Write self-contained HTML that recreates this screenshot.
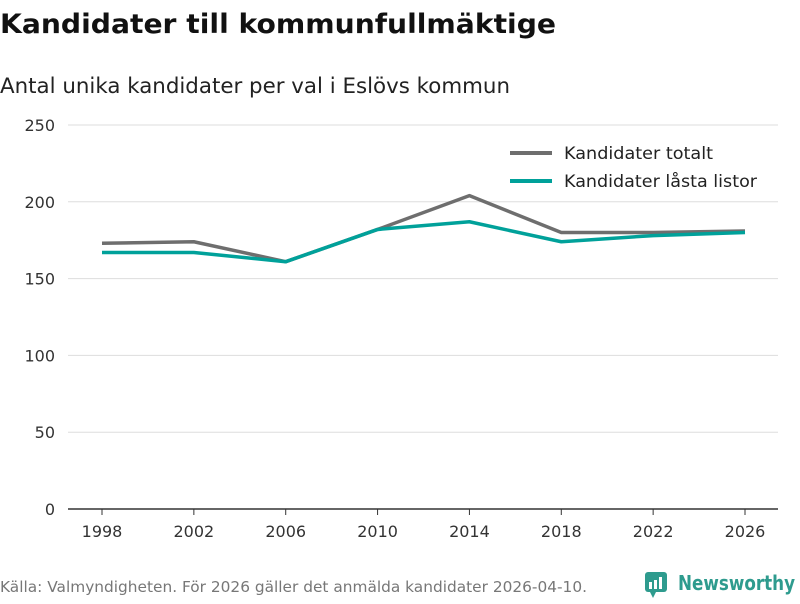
<!DOCTYPE html>
<html><head><meta charset="utf-8"><style>
body{margin:0;background:#fff;font-family:"DejaVu Sans","Liberation Sans",sans-serif;}
svg text{font-family:"DejaVu Sans","Liberation Sans",sans-serif;}
</style></head><body>
<svg width="800" height="600">
<text x="0" y="33" font-size="27" font-weight="bold" fill="#111" textLength="556" lengthAdjust="spacingAndGlyphs">Kandidater till kommunfullmäktige</text>
<text x="0" y="93" font-size="21" fill="#222" textLength="510" lengthAdjust="spacingAndGlyphs">Antal unika kandidater per val i Eslövs kommun</text>
<g id="grid"></g>
<g id="lines"></g>
<g>
<line x1="510" y1="153" x2="552" y2="153" stroke="#6e6e6e" stroke-width="4"/>
<text x="564" y="159" font-size="17" fill="#222" textLength="149" lengthAdjust="spacingAndGlyphs">Kandidater totalt</text>
<line x1="510" y1="181" x2="552" y2="181" stroke="#00a19a" stroke-width="4"/>
<text x="564" y="187" font-size="17" fill="#222" textLength="193" lengthAdjust="spacingAndGlyphs">Kandidater låsta listor</text>
</g>
<text x="0" y="592" font-size="15" fill="#777" textLength="587" lengthAdjust="spacingAndGlyphs">Källa: Valmyndigheten. För 2026 gäller det anmälda kandidater 2026-04-10.</text>
<g>
<rect x="645" y="572" width="22" height="20" rx="3" fill="#2e9b8e"/>
<polygon points="650,592 656,592 653,598" fill="#2e9b8e"/>
<rect x="649" y="582" width="3" height="7" fill="#fff"/><rect x="654" y="580" width="3" height="9" fill="#fff"/><rect x="659" y="577" width="3" height="12" fill="#fff"/>
<text x="678" y="590" font-size="20" font-weight="bold" fill="#2e9b8e" textLength="117" lengthAdjust="spacingAndGlyphs">Newsworthy</text>
</g>
</svg>
<script>
const years=[1998,2002,2006,2010,2014,2018,2022,2026];
const totalt=[173,174,161,182,204,180,180,181];
const lasta=[167,167,161,182,187,174,178,180];
const yTicks=[0,50,100,150,200,250];
const NS="http://www.w3.org/2000/svg";
const x=v=>102+(v-1998)*(745-102)/28;
const y=v=>509-v*384/250;
const grid=document.getElementById('grid'),lines=document.getElementById('lines');
function mk(t,a,p){const e=document.createElementNS(NS,t);for(const k in a)e.setAttribute(k,a[k]);p.appendChild(e);return e;}
yTicks.forEach(t=>{
 if(t>0){const l=mk('line',{x1:68,x2:778,y1:y(t),y2:y(t),stroke:'#ddd','stroke-width':1},grid);
 
 }
 const tx=mk('text',{x:55,y:y(t)+6,'font-size':16,fill:'#333','text-anchor':'end'},grid);tx.textContent=t;
 
 
});
const ax=mk('line',{x1:68,x2:778,y1:509,y2:509,stroke:'#333','stroke-width':1.5},grid);


years.forEach(yr=>{
 mk('line',{x1:x(yr),x2:x(yr),y1:509,y2:515,stroke:'#333'},grid);
 const tx=mk('text',{x:x(yr),y:537,'font-size':16,fill:'#333','text-anchor':'middle'},grid);tx.textContent=yr;
 
 
});
function line(vals,color,name){
 const p=mk('polyline',{points:vals.map((v,i)=>x(years[i])+','+y(v)).join(' '),fill:'none',stroke:color,'stroke-width':3.5,'stroke-linejoin':'round'},lines);
 
 
}
line(totalt,'#6e6e6e','line-kandidater-totalt');
line(lasta,'#00a19a','line-kandidater-lasta-listor');
</script>
</body></html>
